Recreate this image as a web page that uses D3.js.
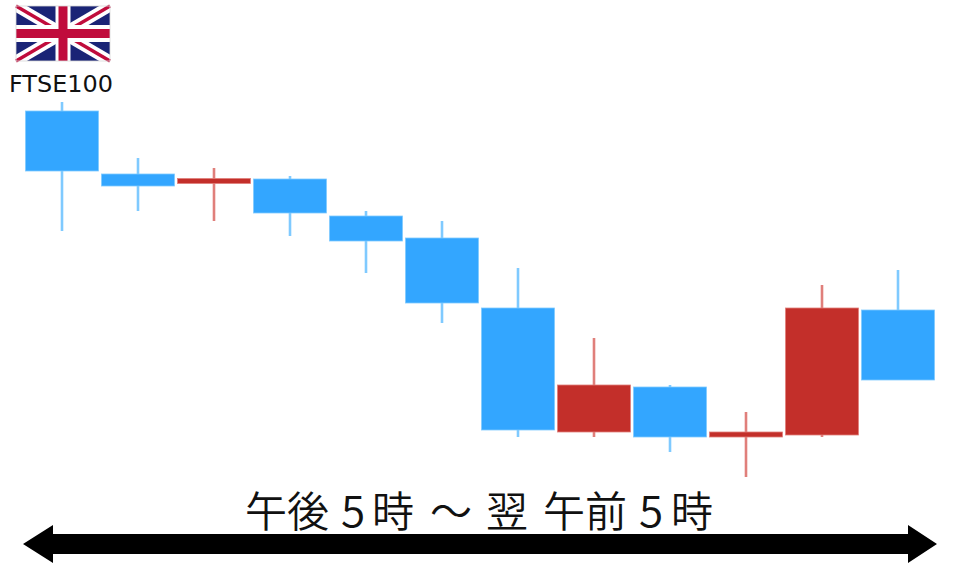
<!DOCTYPE html>
<html><head><meta charset="utf-8">
<script src="https://cdn.jsdelivr.net/npm/d3@7"></script>
<style>html,body{margin:0;padding:0;background:#fff}svg{display:block}</style>
</head><body><svg id="c" width="960" height="567"></svg>
<script>
const sessions = ["17","18","19","20","21","22","23","00","01","02","03","04"];
const opens  = [389,326,316.5,321,284,262,192,68,113,63,65,190];
const closes = [329,314,321.5,287,259,197,70,115,63,68,192,120];
const highs  = [398,342,332,324,289,279,232,162,115,88,215,230];
const lows   = [269,289,279,264,227,177,63,63,48,23,63,120];
const indexLabel = "FTSE100";
const sessionLabel = ["午後","5","時","～","翌","午前","5","時"];

const blue="#33a6ff", red="#c32f2a";
const svg=d3.select("#c");
const x=d3.scaleBand().domain(sessions).range([24,936]).paddingInner(0.04).paddingOuter(0.02);
const y=d3.scaleLinear().domain([0,500]).range([500,0]);
const col=i=>closes[i]>opens[i]?red:blue;

// flag
const f=svg.append("g").attr("transform","translate(16,6)");
const W=94,H=55;
f.append("rect").attr("width",W).attr("height",H).attr("fill","#1a2476");
[[0,0,W,H],[W,0,0,H]].forEach(l=>f.append("line").attr("x1",l[0]).attr("y1",l[1]).attr("x2",l[2]).attr("y2",l[3]).attr("stroke","#fff").attr("stroke-width",11));
[[0,0,W,H],[W,0,0,H]].forEach(l=>f.append("line").attr("x1",l[0]).attr("y1",l[1]).attr("x2",l[2]).attr("y2",l[3]).attr("stroke","#c00c3c").attr("stroke-width",3.4));
f.append("rect").attr("x",W/2-7.5).attr("width",15).attr("height",H).attr("fill","#fff");
f.append("rect").attr("y",H/2-8.5).attr("width",W).attr("height",17).attr("fill","#fff");
f.append("rect").attr("x",W/2-4.5).attr("width",9).attr("height",H).attr("fill","#c00c3c");
f.append("rect").attr("y",H/2-4.5).attr("width",W).attr("height",9).attr("fill","#c00c3c");
f.append("rect").attr("width",W).attr("height",H).attr("fill","none").attr("stroke","#d8d8d8").attr("stroke-width",0.8);

svg.append("text").attr("x",61).attr("y",92).attr("text-anchor","middle")
  .attr("font-family","'DejaVu Sans',sans-serif").attr("font-size",22.5).attr("textLength",104).attr("lengthAdjust","spacingAndGlyphs").attr("fill","#111").text(indexLabel);

// candles
const g=svg.selectAll("g.c").data(sessions).join("g").attr("class","c");
g.append("line").attr("x1",d=>x(d)+x.bandwidth()/2).attr("x2",d=>x(d)+x.bandwidth()/2)
  .attr("y1",(d,i)=>y(highs[i])).attr("y2",(d,i)=>y(lows[i]))
  .attr("stroke",(d,i)=>col(i)===red?"#e07f7b":"#7fcaff").attr("stroke-width",2.6);
g.append("rect").attr("x",d=>x(d)).attr("width",x.bandwidth())
  .attr("y",(d,i)=>y(Math.max(opens[i],closes[i])))
  .attr("height",(d,i)=>Math.abs(opens[i]-closes[i]))
  .attr("fill",(d,i)=>col(i))
  .attr("stroke",(d,i)=>col(i)===red?"#e07f7b":"#7fcaff").attr("stroke-width",0.8);

// session text
const xs=[245,341,372,430,486,543,639,671];
const sizes=[42,44,42,42,42,42,44,42];
const t=svg.append("g").attr("font-family","'Noto Sans CJK JP',sans-serif").attr("font-weight",350).attr("fill","#111");
sessionLabel.forEach((s,i)=>t.append("text").attr("x",xs[i]).attr("y",527).attr("font-size",sizes[i]).text(s));

// arrow
const a=d3.path();
a.moveTo(23,544);a.lineTo(53,525);a.lineTo(53,534);a.lineTo(908,534);a.lineTo(908,525);a.lineTo(937,544);
a.lineTo(908,563);a.lineTo(908,554);a.lineTo(53,554);a.lineTo(53,563);a.closePath();
svg.append("path").attr("d",a.toString()).attr("fill","#000");
</script></body></html>
